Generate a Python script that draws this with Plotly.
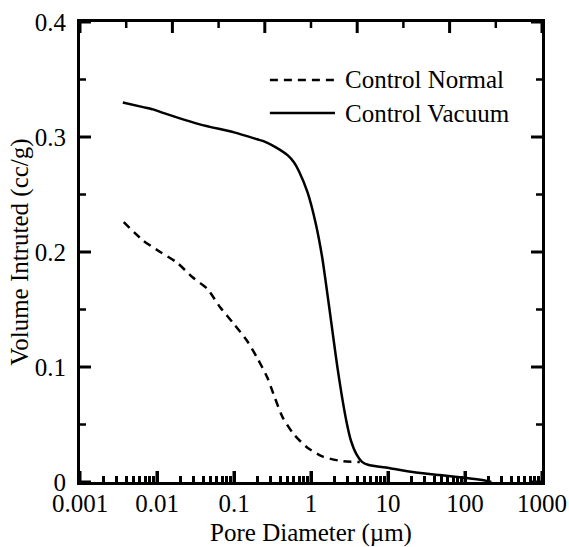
import plotly.graph_objects as go

# ---- data ----
normal_x = [0.0037, 0.0066, 0.011, 0.018, 0.029, 0.045, 0.066, 0.098, 0.147, 0.20,
            0.27, 0.34, 0.43, 0.59, 0.89, 1.43, 2.6, 4.3]
normal_y = [0.226, 0.210, 0.200, 0.191, 0.178, 0.168, 0.152, 0.138, 0.123, 0.108,
            0.091, 0.073, 0.056, 0.042, 0.030, 0.022, 0.018, 0.0174]

vacuum_x = [0.0036, 0.0066, 0.0089, 0.012, 0.036, 0.1, 0.2, 0.25, 0.35, 0.5, 0.6, 0.7,
            0.9, 1.15, 1.4, 1.7, 2.0, 2.2, 2.5, 2.9, 3.3, 3.9, 4.6, 5.5,
            10.6, 21, 47, 104, 168, 220]
vacuum_y = [0.330, 0.326, 0.324, 0.321, 0.311, 0.304, 0.298, 0.296, 0.291, 0.284, 0.278, 0.270,
            0.252, 0.225, 0.195, 0.155, 0.120, 0.100, 0.076, 0.052, 0.036, 0.024, 0.0175, 0.015,
            0.012, 0.0087, 0.006, 0.0035, 0.0017, 0.0]

x_tickvals = [0.001, 0.01, 0.1, 1, 10, 100, 1000]
x_ticktext = ["0.001", "0.01", "0.1", "1", "10", "100", "1000"]
y_tickvals = [0, 0.1, 0.2, 0.3, 0.4]
y_ticktext = ["0", "0.1", "0.2", "0.3", "0.4"]
series_names = ["Control Normal", "Control Vacuum"]

FONT = "Liberation Serif"
x_minor_vals = [m * 10 ** e for e in range(-3, 3) for m in range(2, 10)]
y_minor_vals = [0.05, 0.15, 0.25, 0.35]
top_major = [0, 2, 4, 6, 8, 10]      # top frame ticks (10 equal steps in the reference)
top_minor = [1, 3, 5, 7, 9]

W, H = 569, 547
ML, MR, MT, MB = 80, 27, 22, 65
PW, PH = W - ML - MR, H - MT - MB
MAJ_LEN, MIN_LEN = 11, 6
MAJ_W, MIN_W = 3, 2.5


def tick_axis(overlay, side, anchor, tickvals, length, width, **kw):
    """Label-less overlay axis that only draws inward tick marks."""
    return dict(overlaying=overlay, side=side, anchor=anchor, tickvals=tickvals,
                ticks="inside", ticklen=length, tickwidth=width, tickcolor="black",
                showticklabels=False, showline=False, showgrid=False, zeroline=False,
                automargin=False, **kw)


fig = go.Figure()
fig.add_trace(go.Scatter(x=normal_x, y=normal_y, mode="lines", name=series_names[0],
                         line=dict(color="black", width=2.5, dash="8px,6px",
                                   shape="spline", smoothing=0.6),
                         showlegend=False))
fig.add_trace(go.Scatter(x=vacuum_x, y=vacuum_y, mode="lines", name=series_names[1],
                         line=dict(color="black", width=2.5, shape="spline", smoothing=0.6),
                         showlegend=False))
for xa, xv in [("x2", 1), ("x3", 1), ("x4", 5)]:
    fig.add_trace(go.Scatter(x=[xv], y=[0.2], xaxis=xa, yaxis="y", mode="markers",
                             showlegend=False, hoverinfo="skip", marker=dict(opacity=0)))

LOGX = dict(type="log", range=[-3, 3])

fig.update_layout(
    width=W, height=H,
    margin=dict(l=ML, r=MR, t=MT, b=MB),
    paper_bgcolor="white", plot_bgcolor="white",
    font=dict(family=FONT, size=25, color="black"),
    showlegend=False,
    xaxis=dict(**LOGX, tickvals=x_tickvals, ticktext=x_ticktext, ticks="",
               showline=True, linewidth=3, linecolor="black", mirror=True,
               showgrid=False, zeroline=False, automargin=False, ticklabelstandoff=-3,
               title=dict(text="Pore Diameter (\u00b5m)", standoff=8,
                          font=dict(family=FONT, size=25))),
    yaxis=dict(range=[0, 0.4], tickvals=y_tickvals, ticktext=y_ticktext, ticks="",
               showline=True, linewidth=3, linecolor="black", mirror=True,
               showgrid=False, zeroline=False, automargin=False, ticklabelstandoff=6,
               title=dict(text="Volume Intruted (cc/g)", standoff=0,
                          font=dict(family=FONT, size=25))),
    xaxis2=tick_axis("x", "bottom", "y", x_tickvals, MAJ_LEN, MAJ_W, **LOGX),
    xaxis3=tick_axis("x", "bottom", "y", x_minor_vals, MIN_LEN, MIN_W, **LOGX),
    xaxis4=dict(overlaying="x", side="top", anchor="y", range=[0, 10], visible=False),
)

# inward tick marks as plain shapes: position from the axis scale, length in paper units
dxl = lambda n: n / PW
dyl = lambda n: n / PH
tl = lambda w: dict(color="black", width=w)
for vals, length, w in [(y_tickvals, MAJ_LEN, MAJ_W), (y_minor_vals, MIN_LEN, MIN_W)]:
    for v in vals:
        fig.add_shape(type="line", xref="paper", yref="y", x0=0, x1=dxl(length),
                      y0=v, y1=v, line=tl(w), layer="above")
        fig.add_shape(type="line", xref="paper", yref="y", x0=1, x1=1 - dxl(length),
                      y0=v, y1=v, line=tl(w), layer="above")
for vals, length, w in [(top_major, MAJ_LEN, MAJ_W), (top_minor, MIN_LEN, MIN_W)]:
    for v in vals:
        fig.add_shape(type="line", xref="x4", yref="paper", x0=v, x1=v,
                      y0=1, y1=1 - dyl(length), line=tl(w), layer="above")
for v in x_tickvals:
    fig.add_shape(type="line", xref="x", yref="paper", x0=v, x1=v,
                  y0=0, y1=dyl(MAJ_LEN), line=tl(MAJ_W), layer="above")

# manual legend (long line samples as in the reference)
legend_rows = [(0.874, "8px,6px", series_names[0]), (0.802, "solid", series_names[1])]
for yy, dash, name in legend_rows:
    fig.add_shape(type="line", xref="paper", yref="paper", x0=0.411, x1=0.552, y0=yy, y1=yy,
                  line=dict(color="black", width=2.5, dash=dash))
    fig.add_annotation(xref="paper", yref="paper", x=0.569, y=yy, text=name, showarrow=False,
                       xanchor="left", yanchor="middle", font=dict(family=FONT, size=25))

fig.write_html("out.html")
